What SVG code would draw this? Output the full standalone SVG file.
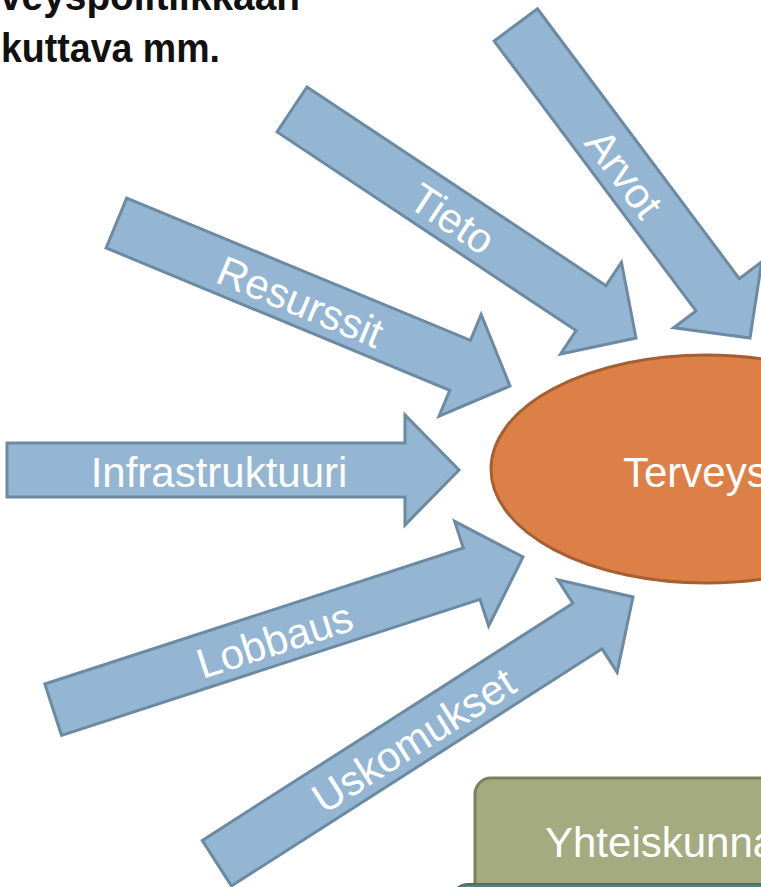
<svg xmlns="http://www.w3.org/2000/svg" width="761" height="887" viewBox="0 0 761 887">
<style>
.arr{fill:#94B6D2;stroke:#6C8BA2;stroke-width:3;stroke-linejoin:miter}
.lbl{font-family:"Liberation Sans",Arial,sans-serif;font-size:42px;fill:#FFFFFF;text-anchor:middle}
.big{font-family:"Liberation Sans",Arial,sans-serif;font-size:42px;fill:#FFFFFF}
.head{font-family:"Liberation Sans",Arial,sans-serif;font-size:40px;font-weight:bold;fill:#111111}
</style>
<rect width="761" height="887" fill="#FFFFFF"/>
<g id="title">
<text class="head" x="0" y="10" textLength="300" lengthAdjust="spacingAndGlyphs">veyspolitiikkaan</text>
<text class="head" x="1" y="62" textLength="219" lengthAdjust="spacingAndGlyphs">kuttava mm.</text>
</g>
<g id="terveys">
<ellipse cx="706" cy="469" rx="215" ry="114" fill="#DD8047" stroke="#A55F33" stroke-width="3"/>
<text class="big" x="623" y="487">Terveys</text>
</g>
<g id="yhteiskunta">
<rect x="475" y="778" width="400" height="200" rx="16" fill="#A5AB81" stroke="#7B805D" stroke-width="3"/>
<text class="big" x="545" y="857">Yhteiskunna</text>
</g>
<g id="bottombox">
<rect x="452" y="884" width="400" height="60" rx="16" fill="#5B8077" stroke="#4E6E67" stroke-width="2"/>
</g>
<g id="connectors">
<g id="arvot" transform="translate(750,338) rotate(53.2)">
<polygon class="arr" points="-391,-27 -54,-27 -54,-55 0,0 -54,55 -54,27 -391,27"/>
<text class="lbl" x="-207" y="17">Arvot</text>
</g>
<g id="tieto" transform="translate(636,338) rotate(33.6)">
<polygon class="arr" points="-413,-27 -54,-27 -54,-55 0,0 -54,55 -54,27 -413,27"/>
<text class="lbl" x="-219" y="17">Tieto</text>
</g>
<g id="resurssit" transform="translate(510,386) rotate(22.5)">
<polygon class="arr" points="-426,-27 -54,-27 -54,-55 0,0 -54,55 -54,27 -426,27"/>
<text class="lbl" x="-226" y="17">Resurssit</text>
</g>
<g id="infrastruktuuri" transform="translate(459,470)">
<polygon class="arr" points="-452,-27 -54,-27 -54,-55 0,0 -54,55 -54,27 -452,27"/>
<text class="lbl" x="-240" y="17">Infrastruktuuri</text>
</g>
<g id="lobbaus" transform="translate(523,557) rotate(-18)">
<polygon class="arr" points="-494,-27 -54,-27 -54,-55 0,0 -54,55 -54,27 -494,27"/>
<text class="lbl" x="-262" y="17">Lobbaus</text>
</g>
<g id="uskomukset" transform="translate(633,597) rotate(-32.6)">
<polygon class="arr" points="-494,-27 -54,-27 -54,-55 0,0 -54,55 -54,27 -494,27"/>
<text class="lbl" x="-262" y="17">Uskomukset</text>
</g>
</g>
</svg>
